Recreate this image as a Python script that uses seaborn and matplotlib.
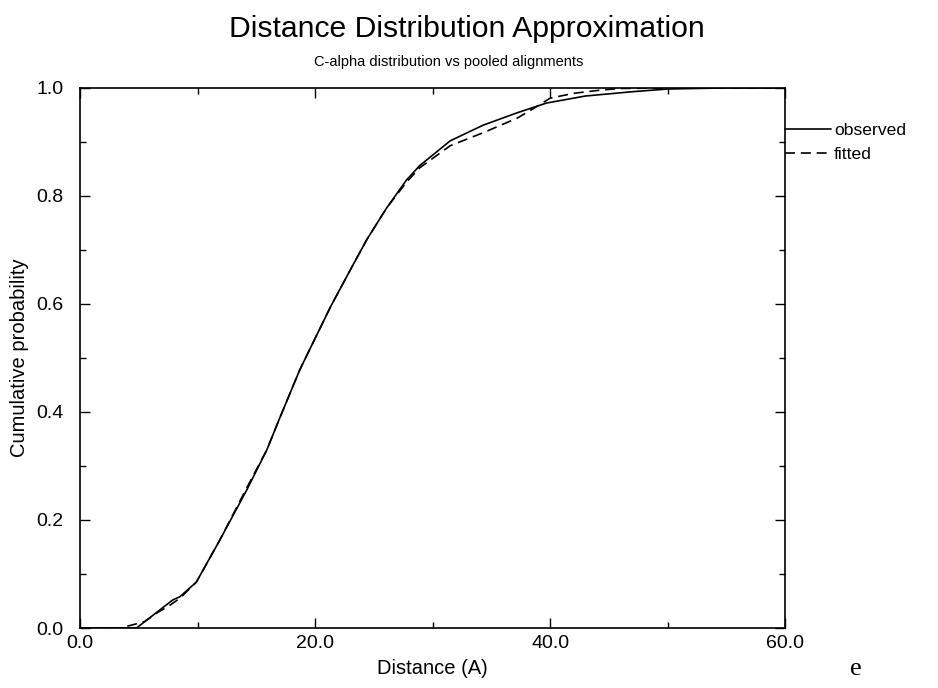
import numpy as np
import pandas as pd

import matplotlib
matplotlib.use("Agg")
import matplotlib.pyplot as plt
from matplotlib.ticker import MultipleLocator, FormatStrFormatter
import seaborn as sns


# observed cumulative distribution
obs_x = [0, 3.0, 4.8, 5.7, 7.0, 7.9, 8.5, 9.9, 11.9, 14.2, 15.9, 17.0, 18.7,
         21.3, 23.0, 24.4, 26.1, 27.8, 28.9, 31.5, 34.3, 37.2, 39.7, 43.0,
         47.0, 50.0, 55.0, 60.0]
obs_y = [0, 0, 0, 0.015, 0.037, 0.052, 0.058, 0.085, 0.163, 0.256, 0.330,
         0.389, 0.478, 0.594, 0.663, 0.719, 0.778, 0.830, 0.856, 0.902, 0.931,
         0.954, 0.972, 0.985, 0.993, 0.998, 1.0, 1.0]

# fitted curve
fit_x = [0, 3.4, 4.5, 5.5, 6.7, 7.5, 8.5, 9.9, 11.9, 14.2, 15.9, 17.0, 18.7,
         21.3, 23.0, 24.4, 26.1, 27.8, 28.9, 31.5, 34.3, 37.2, 38.6, 40.0,
         42.0, 44.3, 46.0, 50.0, 60.0]
fit_y = [0, 0, 0.006, 0.012, 0.030, 0.040, 0.055, 0.085, 0.163, 0.260, 0.330,
         0.389, 0.478, 0.594, 0.663, 0.719, 0.778, 0.826, 0.852, 0.893, 0.917,
         0.944, 0.962, 0.981, 0.990, 0.996, 0.999, 1.0, 1.0]

x_ticks = [0, 20, 40, 60]
y_ticks = [0.0, 0.2, 0.4, 0.6, 0.8, 1.0]

obs_df = pd.DataFrame({"distance": obs_x, "prob": obs_y})
fit_df = pd.DataFrame({"distance": fit_x, "prob": fit_y})

sns.set_theme(style="ticks")
plt.rcParams["font.family"] = ["Liberation Sans", "DejaVu Sans"]
plt.rcParams["text.color"] = "black"
plt.rcParams["axes.labelcolor"] = "black"

fig = plt.figure(figsize=(9.38, 6.88), dpi=100)
ax = fig.add_axes([0.0853, 0.0872, 0.7517, 0.785])

sns.lineplot(data=obs_df, x="distance", y="prob", ax=ax, color="black",
             linewidth=1.2, estimator=None, sort=False, label="observed")
sns.lineplot(data=fit_df, x="distance", y="prob", ax=ax, color="black",
             linewidth=1.2, estimator=None, sort=False, label="fitted",
             linestyle=(0, (6, 3.5)))

ax.set_xlim(0, 60)
ax.set_ylim(0, 1)
ax.set_xticks(x_ticks)
ax.set_yticks(y_ticks)
ax.xaxis.set_minor_locator(MultipleLocator(10))
ax.yaxis.set_minor_locator(MultipleLocator(0.1))
ax.xaxis.set_major_formatter(FormatStrFormatter("%.1f"))
ax.yaxis.set_major_formatter(FormatStrFormatter("%.1f"))
ax.tick_params(which="both", direction="in", top=True, right=True,
               colors="black", labelsize=14, width=1)
ax.tick_params(which="major", length=7)
ax.tick_params(axis="y", which="major", pad=12)
ax.tick_params(axis="x", which="major", pad=5)
ax.tick_params(which="minor", length=4)
for s in ax.spines.values():
    s.set_color("black")
    s.set_linewidth(1.2)

ax.set_xlabel("Distance (A)", fontsize=14.5, labelpad=5)
ax.set_ylabel("Cumulative probability", fontsize=14.5, labelpad=5)

leg = ax.legend(loc="upper left", bbox_to_anchor=(1.0, 0.936), frameon=False,
                fontsize=12.6, handlelength=2.6, handletextpad=0.2,
                borderaxespad=0, borderpad=0, labelspacing=0.5)

fig.text(0.498, 0.958, "Distance Distribution Approximation", ha="center",
         va="center", fontsize=21.7)
fig.text(0.478, 0.91, "C-alpha distribution vs pooled alignments",
         ha="center", va="center", fontsize=10.5)
fig.text(0.912, 0.028, "e", ha="center", va="center", fontsize=19,
         family=["Liberation Serif", "DejaVu Serif"])

fig.savefig("out.png", dpi=100)
